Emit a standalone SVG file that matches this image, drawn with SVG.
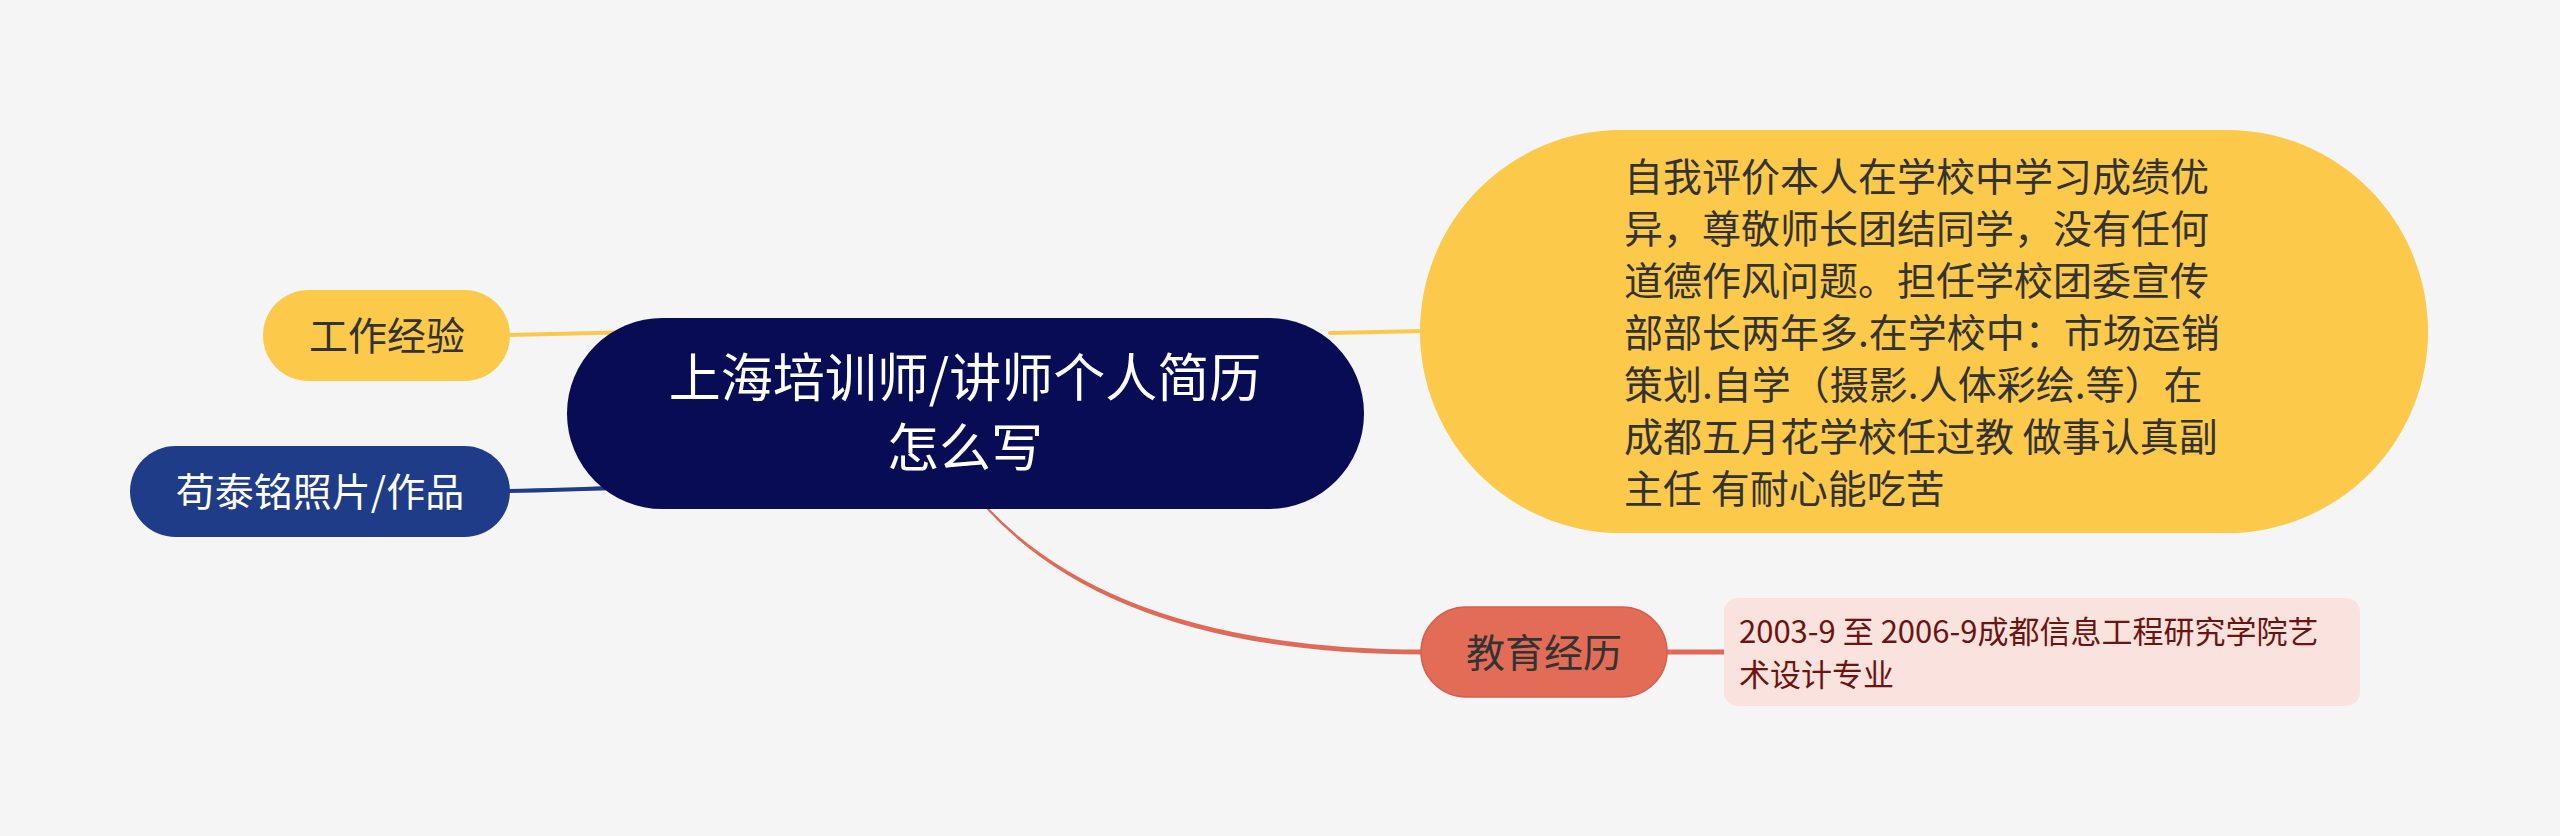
<svg xmlns="http://www.w3.org/2000/svg" width="2560" height="836" viewBox="0 0 2560 836">
<style>
  text { font-family: "Noto Sans CJK SC", "Noto Sans", "Liberation Sans", sans-serif; }
  .dark { fill: #333333; }
  .light { fill: #ffffff; }
  .c39 { font-size: 39px; }
  .mid { text-anchor: middle; }
  .yl { stroke: #fac84e; stroke-width: 4; fill: none; stroke-linecap: round; }
  .bl { stroke: #1f3c88; stroke-width: 4; fill: none; stroke-linecap: round; }
  .rd { stroke: #e06a55; stroke-width: 5; fill: none; }
</style>
<rect x="0" y="0" width="2560" height="836" fill="#f5f5f5"/>

<g id="connectors">
  <path class="yl" d="M 508 335 Q 560 334 640 332"/>
  <path class="bl" d="M 508 491 Q 560 490 640 487"/>
  <path class="yl" d="M 1330 333 Q 1380 332 1426 331"/>
  <path d="M 988.5 508 Q 1123 649.5 1424 649.5 L 1424 654.5 Q 1119 654.5 985.5 508 Z" fill="#e06a55"/>
  <path class="rd" d="M 1664 652 L 1726 652"/>
</g>

<g id="node-main">
  <rect x="567" y="318" width="797" height="191" rx="95.5" ry="95.5" fill="#070c55"/>
  <text class="light mid" x="965" y="397" font-size="52">上海培训师/讲师个人简历</text>
  <text class="light mid" x="965" y="467" font-size="52">怎么写</text>
</g>

<g id="node-work">
  <rect x="263" y="290" width="247" height="91" rx="45.5" ry="45.5" fill="#fcc94a"/>
  <text class="dark c39 mid" x="387" y="350">工作经验</text>
</g>

<g id="node-photo">
  <rect x="130" y="446" width="380" height="91" rx="45.5" ry="45.5" fill="#1f3c88"/>
  <text class="light c39 mid" x="320" y="506">苟泰铭照片/作品</text>
</g>

<g id="node-self">
  <rect x="1420" y="130" width="1008" height="403" rx="201" ry="201.5" fill="#fcc94a"/>
  <text class="dark c39" x="1624" y="191">
    <tspan x="1624" y="191">自我评价本人在学校中学习成绩优</tspan>
    <tspan x="1624" y="243">异，尊敬师长团结同学，没有任何</tspan>
    <tspan x="1624" y="295">道德作风问题。担任学校团委宣传</tspan>
    <tspan x="1624" y="347">部部长两年多.在学校中：市场运销</tspan>
    <tspan x="1624" y="399">策划.自学（摄影.人体彩绘.等）在</tspan>
    <tspan x="1624" y="451">成都五月花学校任过教 做事认真副</tspan>
    <tspan x="1624" y="503">主任 有耐心能吃苦</tspan>
  </text>
</g>

<g id="node-edu">
  <rect x="1421" y="607" width="246" height="90" rx="45" ry="45" fill="#e36c57" stroke="#d8604b" stroke-width="1.5"/>
  <text class="dark c39 mid" x="1544" y="667">教育经历</text>
</g>

<g id="node-edu-detail">
  <rect x="1724" y="598" width="636" height="108" rx="14" ry="14" fill="#fae3de"/>
  <text x="1739" y="643" font-size="31" fill="#6e1410">
    <tspan x="1739" y="643">2003-9 至 2006-9成都信息工程研究学院艺</tspan>
    <tspan x="1739" y="686">术设计专业</tspan>
  </text>
</g>
</svg>
